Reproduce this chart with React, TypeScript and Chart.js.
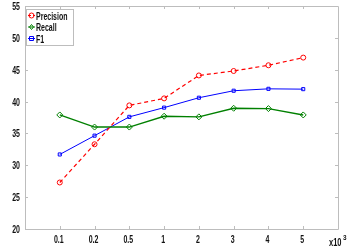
import React, { useEffect, useRef } from "react";
import { Chart, registerables } from "chart.js";

Chart.register(...registerables);

const categories = ["0.1", "0.2", "0.5", "1", "2", "3", "4", "5"];
const precision = [27.3, 33.3, 39.4, 40.5, 44.1, 44.8, 45.7, 46.9];
const recall = [37.9, 36.0, 36.0, 37.7, 37.6, 38.95, 38.9, 37.9];
const f1 = [31.7, 34.65, 37.6, 39.05, 40.6, 41.7, 42.0, 41.95];
const yTicks = [20, 25, 30, 35, 40, 45, 50, 55];
const seriesNames = ["Precision", "Recall", "F1"];
const exponentLabel = "x10";
const exponentPower = "3";

const FONT = "'Liberation Sans', Arial, sans-serif";
const RED = "#ff0000";
const GREEN = "#008000";
const BLUE = "#0000ff";
const FRAME = "#bdbdbd";
const TEXT = "#111111";
const SQUEEZE = 0.7;

function narrowText(
  ctx: CanvasRenderingContext2D,
  text: string,
  x: number,
  y: number,
  size: number,
  align: CanvasTextAlign,
  baseline: CanvasTextBaseline,
  squeeze = SQUEEZE,
  weight = "bold"
) {
  ctx.save();
  ctx.translate(x, y);
  ctx.scale(squeeze, 1);
  ctx.font = `${weight} ${size}px ${FONT}`;
  ctx.textAlign = align;
  ctx.textBaseline = baseline;
  ctx.fillStyle = TEXT;
  ctx.fillText(text, 0, 0);
  ctx.restore();
}

function drawMarker(ctx: CanvasRenderingContext2D, kind: string, x: number, y: number, r: number, color: string) {
  ctx.save();
  ctx.strokeStyle = color;
  ctx.lineWidth = 1;
  ctx.setLineDash([]);
  ctx.beginPath();
  if (kind === "circle") {
    ctx.arc(x, y, r, 0, Math.PI * 2);
  } else if (kind === "diamond") {
    ctx.moveTo(x, y - r);
    ctx.lineTo(x + r * 0.8, y);
    ctx.lineTo(x, y + r);
    ctx.lineTo(x - r * 0.8, y);
    ctx.closePath();
  } else {
    ctx.rect(x - r, y - r, 2 * r, 2 * r);
  }
  ctx.stroke();
  ctx.restore();
}

const framePlugin = {
  id: "matlabFrame",
  afterDraw(chart: any) {
    const { ctx, chartArea } = chart;
    const { left, right, top, bottom } = chartArea;
    const xs = chart.scales.x;
    const ys = chart.scales.y;
    ctx.save();
    ctx.strokeStyle = FRAME;
    ctx.lineWidth = 1;
    ctx.setLineDash([]);
    ctx.beginPath();
    ctx.rect(Math.round(left) + 0.5, Math.round(top) + 0.5, Math.round(right - left), Math.round(bottom - top));
    ctx.stroke();
    const tl = 3;
    ctx.beginPath();
    categories.forEach((_, i) => {
      const px = Math.round(xs.getPixelForValue(i + 1)) + 0.5;
      ctx.moveTo(px, bottom);
      ctx.lineTo(px, bottom - tl);
      ctx.moveTo(px, top);
      ctx.lineTo(px, top + tl);
    });
    yTicks.forEach((v) => {
      const py = Math.round(ys.getPixelForValue(v)) + 0.5;
      ctx.moveTo(left, py);
      ctx.lineTo(left + tl, py);
      ctx.moveTo(right, py);
      ctx.lineTo(right - tl, py);
    });
    ctx.stroke();

    // tick labels (condensed), positioned by the chart's scales
    categories.forEach((c, i) => {
      const px = xs.getPixelForValue(i + 1);
      narrowText(ctx, c, px - 1, bottom + 14, 10, "center", "alphabetic");
    });
    yTicks.forEach((v) => {
      const py = ys.getPixelForValue(v);
      narrowText(ctx, String(v), left - 5, py + 4, 10, "right", "alphabetic");
    });

    // exponent label
    narrowText(ctx, exponentLabel, 329, 246, 10, "left", "alphabetic", 0.75);
    narrowText(ctx, exponentPower, 343, 240, 8, "left", "alphabetic", 0.8);

    // legend
    const bx = 26, by = 9, bw = 47, bh = 36;
    ctx.fillStyle = "#ffffff";
    ctx.fillRect(bx, by, bw, bh);
    ctx.strokeStyle = FRAME;
    ctx.lineWidth = 1;
    ctx.strokeRect(bx + 0.5, by + 0.5, bw, bh);
    const entries = [
      { name: seriesNames[0], color: RED, dash: [3, 2], marker: "circle" },
      { name: seriesNames[1], color: GREEN, dash: [], marker: "diamond" },
      { name: seriesNames[2], color: BLUE, dash: [], marker: "square" },
    ];
    entries.forEach((e, i) => {
      const cy = 15.5 + i * 11.5;
      ctx.save();
      ctx.strokeStyle = e.color;
      ctx.lineWidth = 1;
      ctx.setLineDash(e.dash);
      ctx.beginPath();
      ctx.moveTo(28, cy);
      ctx.lineTo(35, cy);
      ctx.stroke();
      ctx.restore();
      drawMarker(ctx, e.marker, 31.5, cy, e.marker === "square" ? 2 : 2.5, e.color);
      narrowText(ctx, e.name, 36, cy + 4, 10, "left", "alphabetic", 0.7);
    });
    ctx.restore();
  },
};

export default function App() {
  const ref = useRef<HTMLCanvasElement | null>(null);
  useEffect(() => {
    if (!ref.current) return;
    const toPts = (arr: number[]) => arr.map((v, i) => ({ x: i + 1, y: v }));
    const chart = new Chart(ref.current, {
      type: "line",
      data: {
        datasets: [
          {
            label: seriesNames[0],
            data: toPts(precision),
            borderColor: RED,
            borderWidth: 1.2,
            borderDash: [4, 3],
            pointStyle: "circle",
            pointRadius: 2.5,
            pointBorderWidth: 1,
            pointBorderColor: RED,
            pointBackgroundColor: "rgba(0,0,0,0)",
            tension: 0,
          },
          {
            label: seriesNames[1],
            data: toPts(recall),
            borderColor: GREEN,
            borderWidth: 1.4,
            pointStyle: "rectRot",
            pointRadius: 3,
            pointBorderWidth: 1,
            pointBorderColor: GREEN,
            pointBackgroundColor: "rgba(0,0,0,0)",
            tension: 0,
          },
          {
            label: seriesNames[2],
            data: toPts(f1),
            borderColor: BLUE,
            borderWidth: 1,
            pointStyle: "rect",
            pointRadius: 2.2,
            pointBorderWidth: 1,
            pointBorderColor: BLUE,
            pointBackgroundColor: "rgba(0,0,0,0)",
            tension: 0,
          },
        ],
      },
      options: {
        animation: false,
        responsive: false,
        maintainAspectRatio: false,
        layout: { padding: { top: 6, right: 11, left: 0, bottom: 0 } },
        plugins: { legend: { display: false }, tooltip: { enabled: false } },
        scales: {
          x: {
            type: "linear",
            min: 0,
            max: 9,
            grid: { display: false, drawTicks: false },
            border: { display: false },
            afterBuildTicks: (scale: any) => {
              scale.ticks = categories.map((_, i) => ({ value: i + 1 }));
            },
            afterFit: (scale: any) => {
              scale.height = 20;
            },
            ticks: {
              display: false,
              autoSkip: false,
              callback: (v: any) => categories[Number(v) - 1] ?? "",
            },
          },
          y: {
            min: 20,
            max: 55,
            grid: { display: false, drawTicks: false },
            border: { display: false },
            afterBuildTicks: (scale: any) => {
              scale.ticks = yTicks.map((v) => ({ value: v }));
            },
            afterFit: (scale: any) => {
              scale.width = 25;
            },
            ticks: { display: false },
          },
        },
      },
      plugins: [framePlugin],
    } as any);
    return () => chart.destroy();
  }, []);
  return (
    <div style={{ position: "fixed", left: 0, top: 0, width: 349, height: 249, background: "#fff" }}>
      <canvas ref={ref} width={349} height={249} style={{ width: 349, height: 249, display: "block" }} />
    </div>
  );
}
